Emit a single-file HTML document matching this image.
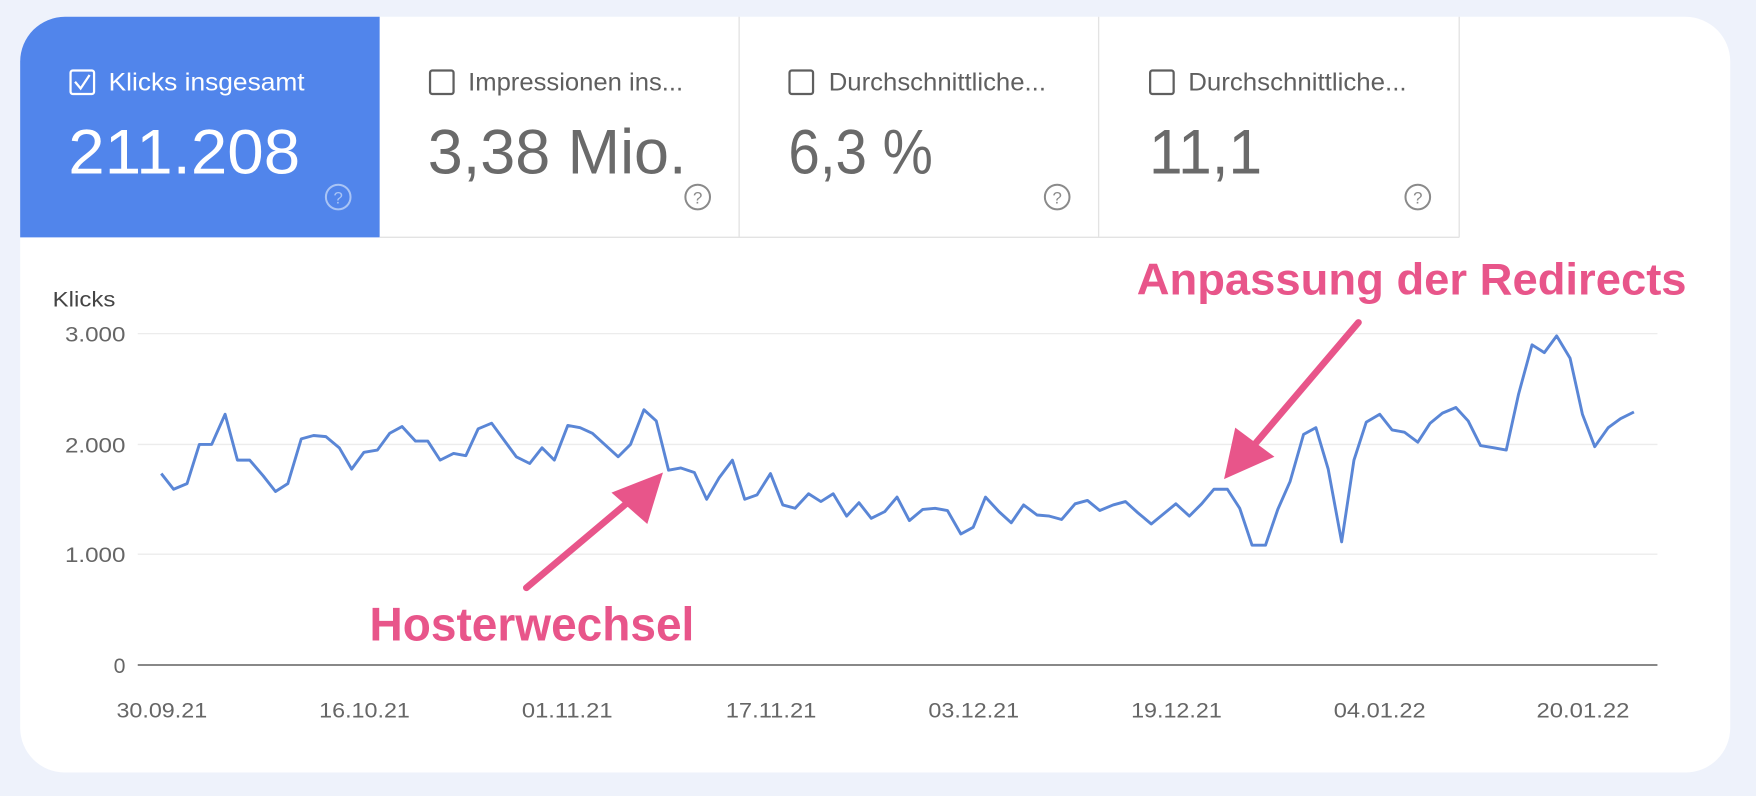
<!DOCTYPE html>
<html><head><meta charset="utf-8"><style>
html,body{margin:0;padding:0;background:#eef2fb;}
svg{display:block}
</style></head><body>
<svg width="1756" height="796" viewBox="0 0 1568 711" preserveAspectRatio="none" xmlns="http://www.w3.org/2000/svg" font-family="'Liberation Sans', sans-serif">
<rect x="0" y="0" width="1568" height="711" fill="#eef2fb"/>
<rect x="18" y="15" width="1527" height="675" rx="40" fill="#ffffff"/>
<path d="M18 55 A40 40 0 0 1 58 15 L339 15 L339 212 L18 212 Z" fill="#5185eb"/>
<g stroke="#e3e3e3" stroke-width="1.2">
<line x1="339" y1="212" x2="1303" y2="212"/>
<line x1="660" y1="15" x2="660" y2="212"/>
<line x1="981" y1="15" x2="981" y2="212"/>
<line x1="1303" y1="15" x2="1303" y2="212"/>
</g>
<!-- tile 1 -->
<rect x="63" y="63" width="21" height="21" rx="2" fill="none" stroke="#fff" stroke-width="2"/>
<path d="M67 73 L72 79 L80 67" fill="none" stroke="#fff" stroke-width="2"/>
<text x="97" y="81" font-size="22" fill="#fff" textLength="175" lengthAdjust="spacingAndGlyphs">Klicks insgesamt</text>
<text x="61" y="155" font-size="56" fill="#fff" textLength="207" lengthAdjust="spacingAndGlyphs">211.208</text>
<circle cx="302" cy="176" r="11" fill="none" stroke="#a9c4f5" stroke-width="1.8"/>
<text x="302" y="182" font-size="15" fill="#a9c4f5" text-anchor="middle">?</text>
<!-- tile 2 -->
<rect x="384" y="63" width="21" height="21" rx="2" fill="none" stroke="#5f5f5f" stroke-width="2"/>
<text x="418" y="81" font-size="22" fill="#5f5f5f" textLength="192" lengthAdjust="spacingAndGlyphs">Impressionen ins...</text>
<text x="382" y="155" font-size="56" fill="#6a6a6a" textLength="231" lengthAdjust="spacingAndGlyphs">3,38 Mio.</text>
<circle cx="623" cy="176" r="11" fill="none" stroke="#8a8a8a" stroke-width="1.8"/>
<text x="623" y="182" font-size="15" fill="#8a8a8a" text-anchor="middle">?</text>
<!-- tile 3 -->
<rect x="705" y="63" width="21" height="21" rx="2" fill="none" stroke="#5f5f5f" stroke-width="2"/>
<text x="740" y="81" font-size="22" fill="#5f5f5f" textLength="194" lengthAdjust="spacingAndGlyphs">Durchschnittliche...</text>
<text x="704" y="155" font-size="56" fill="#6a6a6a" textLength="129" lengthAdjust="spacingAndGlyphs">6,3 %</text>
<circle cx="944" cy="176" r="11" fill="none" stroke="#8a8a8a" stroke-width="1.8"/>
<text x="944" y="182" font-size="15" fill="#8a8a8a" text-anchor="middle">?</text>
<!-- tile 4 -->
<rect x="1027" y="63" width="21" height="21" rx="2" fill="none" stroke="#5f5f5f" stroke-width="2"/>
<text x="1061" y="81" font-size="22" fill="#5f5f5f" textLength="195" lengthAdjust="spacingAndGlyphs">Durchschnittliche...</text>
<text x="1026" y="155" font-size="56" fill="#6a6a6a" textLength="101" lengthAdjust="spacingAndGlyphs">11,1</text>
<circle cx="1266" cy="176" r="11" fill="none" stroke="#8a8a8a" stroke-width="1.8"/>
<text x="1266" y="182" font-size="15" fill="#8a8a8a" text-anchor="middle">?</text>
<!-- chart -->
<text x="47" y="274" font-size="19" fill="#444" textLength="56" lengthAdjust="spacingAndGlyphs">Klicks</text>
<g stroke="#ececec" stroke-width="1.2">
<line x1="123" y1="298" x2="1480" y2="298"/>
<line x1="123" y1="397" x2="1480" y2="397"/>
<line x1="123" y1="495" x2="1480" y2="495"/>
</g>
<line x1="123" y1="594" x2="1480" y2="594" stroke="#777" stroke-width="1.5"/>
<g font-size="19" fill="#666" text-anchor="end">
<text x="112" y="305" textLength="54" lengthAdjust="spacingAndGlyphs">3.000</text>
<text x="112" y="404" textLength="54" lengthAdjust="spacingAndGlyphs">2.000</text>
<text x="112" y="502" textLength="54" lengthAdjust="spacingAndGlyphs">1.000</text>
<text x="112" y="601">0</text>
</g>
<g font-size="19" fill="#666">
<text x="104" y="641" textLength="81" lengthAdjust="spacingAndGlyphs">30.09.21</text>
<text x="285" y="641" textLength="81" lengthAdjust="spacingAndGlyphs">16.10.21</text>
<text x="466" y="641" textLength="81" lengthAdjust="spacingAndGlyphs">01.11.21</text>
<text x="648" y="641" textLength="81" lengthAdjust="spacingAndGlyphs">17.11.21</text>
<text x="829" y="641" textLength="81" lengthAdjust="spacingAndGlyphs">03.12.21</text>
<text x="1010" y="641" textLength="81" lengthAdjust="spacingAndGlyphs">19.12.21</text>
<text x="1191" y="641" textLength="82" lengthAdjust="spacingAndGlyphs">04.01.22</text>
<text x="1372" y="641" textLength="83" lengthAdjust="spacingAndGlyphs">20.01.22</text>
</g>
<polyline fill="none" stroke="#5a86d6" stroke-width="2.6" stroke-linejoin="round" points="144,423 155,437 167,432 178,397 189,397 201,370 212,411 223,411 235,425 246,439 257,432 269,392 280,389 291,390 303,400 314,419 325,404 337,402 348,387 359,381 371,394 382,394 393,411 405,405 416,407 427,383 439,378 450,393 461,408 473,414 484,400 495,411 507,380 518,382 529,387 541,398 552,408 563,397 575,366 586,376 597,420 608,418 620,422 631,446 642,427 654,411 665,446 676,442 688,423 699,451 710,454 722,441 733,448 744,441 756,461 767,449 778,463 790,457 801,444 812,465 824,455 835,454 846,456 858,477 869,471 880,444 892,457 903,467 914,451 926,460 937,461 948,464 960,450 971,447 982,456 994,451 1005,448 1016,458 1028,468 1039,459 1050,450 1062,461 1073,450 1084,437 1096,437 1107,454 1118,487 1130,487 1141,455 1152,430 1164,388 1175,382 1186,419 1198,484 1209,411 1220,377 1232,370 1243,384 1254,386 1266,395 1277,378 1288,369 1300,364 1311,376 1322,398 1334,400 1345,402 1356,352 1368,308 1379,315 1390,300 1402,320 1413,370 1424,399 1436,382 1447,374 1459,368"/>
<!-- annotations -->
<g stroke="#e8558a" stroke-width="6" stroke-linecap="round" fill="#e8558a">
<line x1="470" y1="525" x2="565" y2="445"/>
<line x1="1213" y1="288" x2="1116" y2="402"/>
</g>
<polygon points="592,422 578,468 546,440" fill="#e8558a"/>
<polygon points="1093,428 1103,382 1138,408" fill="#e8558a"/>
<text x="330" y="572" font-size="42" font-weight="bold" fill="#e8558a" textLength="290" lengthAdjust="spacingAndGlyphs">Hosterwechsel</text>
<text x="1015" y="263" font-size="40" font-weight="bold" fill="#e8558a" textLength="491" lengthAdjust="spacingAndGlyphs">Anpassung der Redirects</text>
</svg>
</body></html>
